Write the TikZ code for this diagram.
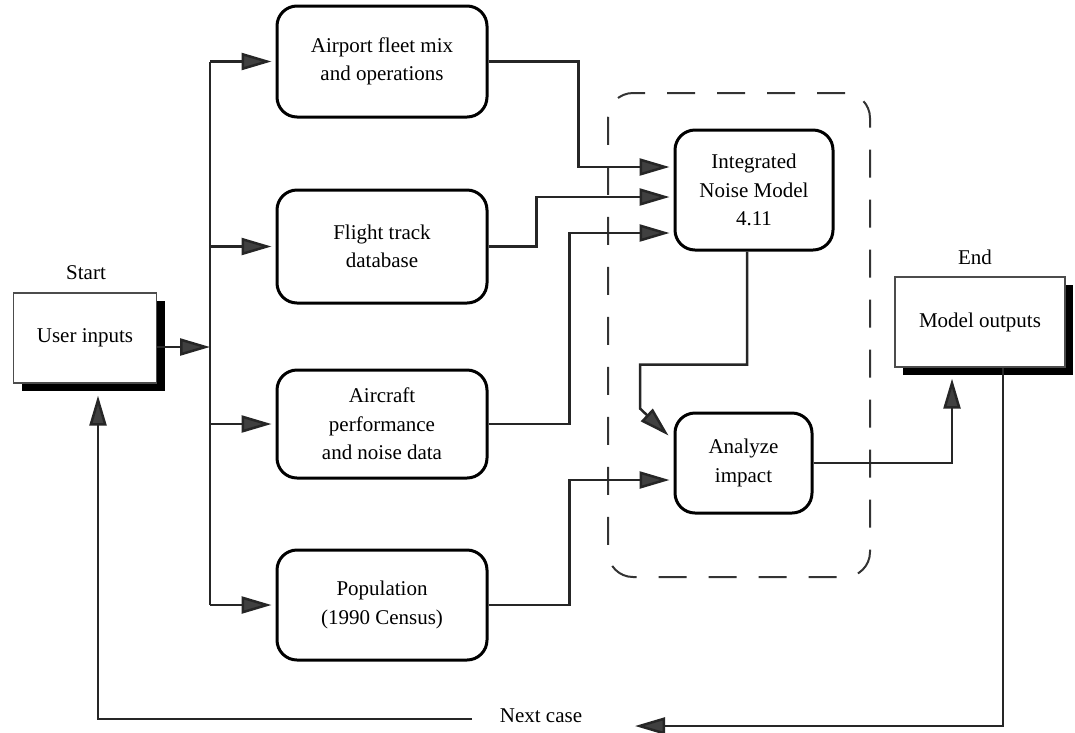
\documentclass[tikz,border=0pt]{standalone}
\usepackage{fontspec}
\setmainfont{Liberation Serif}
\newfontfamily\tnr{Liberation Serif}
\usetikzlibrary{arrows.meta,shadows}
\begin{document}
\begin{tikzpicture}[x=1pt,y=-1pt,
  every node/.style={font=\tnr\fontsize{21}{28.5}\selectfont, inner sep=0pt},
  proc/.style={draw=black, line width=3pt, rounded corners=20pt, fill=white, align=center},
  term/.style={draw=black!70, line width=1.3pt, fill=white, align=center,
    drop shadow={shadow xshift=8pt, shadow yshift=-8pt, fill=black, opacity=1}},
  conn/.style={draw=black!85, line width=2.5pt},
  arr/.style={conn, -{Triangle[length=30pt,width=17pt,fill=black!75]}, shorten >=4pt},
  grp/.style={draw=black!80, line width=2pt, dash pattern=on 28pt off 22pt, rounded corners=25pt}
]
\useasboundingbox (0,0) rectangle (1075,732);

% group region
\node[grp, minimum width=262pt, minimum height=484pt] (grp) at (739,335) {};

% nodes
\node[term, minimum width=143pt, minimum height=90pt] (usr) at (85,338) {User inputs};
\node (start) at (86,273) {Start};
\node[term, minimum width=170pt, minimum height=90pt] (out) at (980,322) {Model outputs};
\node (end) at (975,257) {End};

\node[proc, minimum width=210pt, minimum height=111pt] (air) at (382,61.5) {Airport fleet mix\\and operations};
\node[proc, minimum width=210pt, minimum height=113pt] (flt) at (382,246.5) {Flight track\\database};
\node[proc, minimum width=210pt, minimum height=108pt] (acp) at (382,424) {Aircraft\\performance\\and noise data};
\node[proc, minimum width=210pt, minimum height=110pt] (pop) at (382,605) {Population\\(1990 Census)};
\node[proc, minimum width=158pt, minimum height=120pt] (inm) at (754,190) {Integrated\\Noise Model\\4.11};
\node[proc, minimum width=137pt, minimum height=100pt] (ana) at (743.5,463) {Analyze\\impact};
\node (next) at (541,716) {Next case};

% bus
\coordinate (b1) at (210,61.5);
\coordinate (b2) at (210,246.5);
\coordinate (b3) at (210,424);
\coordinate (b4) at (210,605);
\coordinate (bj) at (210,347);
\draw[conn] (b1) -- (b4);
\draw[arr, shorten >=0pt] (usr.east |- bj) -- (bj);
\draw[arr] (b1) -- (air.west);
\draw[arr] (b2) -- (flt.west);
\draw[arr] (b3) -- (acp.west);
\draw[arr] (b4) -- (pop.west);

% inputs to INM
\draw[arr] (air.east) -- ++(90,0) |- ([yshift=23pt]inm.west);
\draw[arr] (flt.east) -- ++(48,0) |- ([yshift=-7pt]inm.west);
\draw[arr] (acp.east) -- ++(81,0) |- ([yshift=-43pt]inm.west);
\draw[arr] (pop.east) -- ++(81,0) |- ([yshift=-17pt]ana.west);

% INM to analyze
\draw[arr, shorten >=0pt] ([xshift=-7pt]inm.south) -- ++(0,113) -- ++(-107,0) -- ++(0,44) -- ([shift={(-5pt,-24pt)}]ana.north west);

% analyze to outputs
\draw[arr, shorten >=0pt] (ana.east) -| ([shift={(-28pt,-11pt)}]out.south);

% loop back
\coordinate (nc1) at (472,719);
\coordinate (nc2) at (635,726);
\draw[arr, shorten >=0pt] ([xshift=23pt]out.south) |- (nc2);
\draw[arr, shorten >=0pt] (nc1) -| ([shift={(13pt,-12pt)}]usr.south);
\end{tikzpicture}
\end{document}
